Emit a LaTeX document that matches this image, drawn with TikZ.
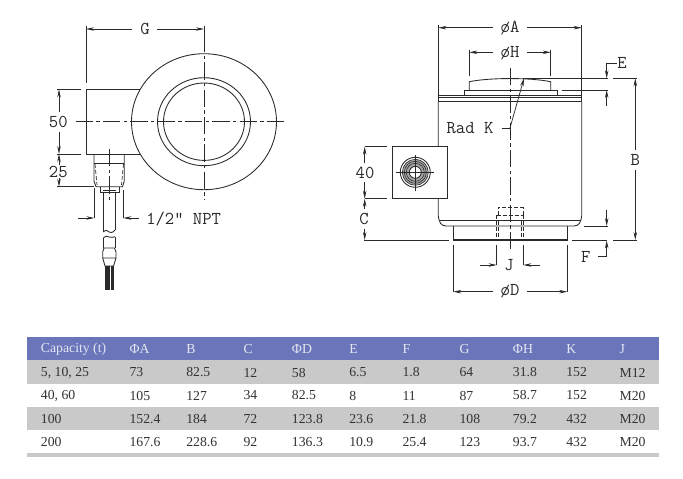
\documentclass[tikz,border=0pt]{standalone}
\usepackage{fontspec}
\setmainfont{Liberation Serif}
\usetikzlibrary{arrows.meta}
\definecolor{ink}{HTML}{2A2A2A}
\definecolor{headblue}{HTML}{6B75BA}
\definecolor{rowgray}{HTML}{C9C9C9}
\definecolor{headtext}{HTML}{E4E7F3}
\definecolor{celltext}{HTML}{333333}
\tikzset{
  part/.style={draw=ink,line width=0.65pt},
  thin part/.style={draw=ink,line width=0.45pt},
  dimline/.style={draw=ink,line width=0.55pt},
  dimarrow/.style={draw=ink,line width=0.55pt,-{Stealth[length=6pt,width=2.6pt]}},
  centerline/.style={draw=ink,line width=0.5pt,dash pattern=on 13pt off 2.5pt on 2.5pt off 2.5pt},
  hidden/.style={draw=ink,line width=0.5pt,dash pattern=on 3pt off 1.5pt},
  cad/.style={font=\ttfamily\fontsize{13.6}{14}\selectfont,text=ink,inner sep=0pt},
  headcell/.style={anchor=west,inner sep=0pt,text=headtext,font=\fontsize{10.3}{12}\selectfont},
  bodycell/.style={anchor=west,inner sep=0pt,text=celltext,font=\fontsize{10.3}{12}\selectfont}
}
\begin{document}
\begin{tikzpicture}[x=0.75pt,y=-0.75pt]
\useasboundingbox (0,0) rectangle (683,479);
\fill[white] (0,0) rectangle (683,479);

% ---------- left view ----------
\draw[part] (204,121.7) ellipse [x radius=72.5,y radius=68];
\draw[part] (204,121.7) ellipse [x radius=46.5,y radius=44];
\draw[part] (204,121.7) ellipse [x radius=40.5,y radius=38.7];
\draw[part] (140,89.3) -- (86,89.3) -- (86,154) -- (140,154);
\draw[centerline] (75.7,121.7) -- (287,121.7);
\draw[centerline] (204,35) -- (204,199.3);
% fitting
\draw[part] (94,154) -- (94,181) -- (96,186.7) -- (122.5,186.7) -- (124.3,181) -- (124.3,154);
\draw[thin part] (94,163.3) -- (124.3,163.3);
\draw[hidden] (95,164) -- (97,185);
\draw[hidden] (123.5,164) -- (121.5,185);
\draw[part] (100,186.7) -- (100,192.7) -- (119.3,192.7) -- (119.3,186.7);
\draw[thin part] (103,190) -- (116,190);
\draw[centerline] (109,149) -- (109,200);
% cable
\draw[part] (103.3,192.7) -- (103.3,232);
\draw[part] (115,192.7) -- (115,230);
\draw[part] (103.3,232) .. controls (106,229) and (108,231) .. (109,232) .. controls (110,233) and (113,233) .. (115,230);
\draw[part] (103.3,238) .. controls (105,235.5) and (107,236) .. (109,237) .. controls (111,238) and (113,237) .. (115,236.7);
\draw[part] (103.3,238) -- (103.3,248);
\draw[part] (115,236.7) -- (115,248);
\draw[part] (104,248) -- (102.7,252) -- (102.7,258) -- (116,258) -- (116,252) -- (114.5,248) -- cycle;
\draw[part] (102.7,258) -- (105,266) -- (113.5,266) -- (116,258);
\fill[ink] (105,266) rectangle (107.5,290);
\fill[ink] (108.2,266) rectangle (110.3,290);
\fill[ink] (111,266) rectangle (113.5,290);
% dimensions
\draw[dimline] (86,26) -- (86,83.3);
\draw[dimline] (204,26) -- (204,35);
\node[cad] (g) at (145,29) {G};
\draw[dimarrow] (132,29) -- (86,29);
\draw[dimarrow] (157,29) -- (204,29);
\draw[dimline] (57.3,89.3) -- (80.7,89.3);
\draw[dimline] (57.3,154) -- (81,154);
\draw[dimline] (57.3,186.7) -- (94,186.7);
\node[cad] (d50) at (58.3,121.7) {50};
\node[cad] (d25) at (58.3,171.7) {25};
\draw[dimarrow] (59,112) -- (59,89.3);
\draw[dimarrow] (59,132) -- (59,154);
\draw[dimarrow] (59,165) -- (59,154);
\draw[dimarrow] (59,178) -- (59,186.7);
\draw[dimline] (94.3,188) -- (94.3,218);
\draw[dimline] (123.3,190) -- (123.3,218);
\draw[dimarrow] (78.3,218) -- (94.3,218);
\draw[dimarrow] (139.3,218) -- (123.3,218);
\node[cad,anchor=west] (npt) at (146,218.5) {1/2" NPT};

% ---------- right view ----------
\draw[part] (438.3,101.7) -- (438.3,216) .. controls (439,222) and (441,226) .. (446,226) -- (574,226) .. controls (579,226) and (581,222) .. (581.7,216) -- (581.7,101.7);
\draw[part] (438.3,95) rectangle (581.7,97);
\draw[part] (438.3,101.7) -- (581.7,101.7);
\draw[part] (438.3,97) -- (438.3,101.7);
\draw[part] (581.7,97) -- (581.7,101.7);
\draw[part] (439.5,220.7) -- (580.5,220.7);
\draw[part] (464,95) -- (464,90) -- (557.3,90) -- (557.3,95);
\draw[part] (469.3,90) -- (469.3,81.7) .. controls (490,77.5) and (530,77.5) .. (550.7,81.7) -- (550.7,90);
\draw[part] (453.3,226) -- (453.3,240) -- (567.3,240) -- (567.3,226);
\draw[line width=1.1pt,draw=ink] (453.3,240) -- (567.3,240);
% thread
\draw[hidden] (498,215) -- (498,207.3) -- (523,207.3) -- (523,215);
\draw[hidden] (496.7,215) -- (523.3,215);
\draw[hidden] (496.7,215) -- (496.7,239.5);
\draw[hidden] (523.3,215) -- (523.3,239.5);
\draw[hidden] (498.5,221) -- (498.5,239.5);
\draw[hidden] (521.5,221) -- (521.5,239.5);
\draw[centerline] (510,68) -- (510,252);
% connector
\draw[part,fill=white] (392.3,146.7) rectangle (447,198.7);
\draw[part] (415.3,172.3) circle [radius=15];
\fill[gray!70] (415.3,172.3) circle [radius=13];
\draw[thin part] (415.3,172.3) circle [radius=13];
\draw[thin part] (415.3,172.3) circle [radius=11];
\draw[thin part] (415.3,172.3) circle [radius=9];
\draw[part,fill=white] (415.3,172.3) circle [radius=6];
\draw[thin part] (395.7,172.3) -- (434.3,172.3);
\draw[thin part] (415.3,155) -- (415.3,190.7);
% dimensions right
\draw[dimline] (438.3,25) -- (438.3,95);
\draw[dimline] (581.7,25) -- (581.7,95);
\node[cad] (da) at (510,28.5) {øA};
\draw[dimarrow] (493,27.7) -- (438.3,27.7);
\draw[dimarrow] (527,27.7) -- (581.7,27.7);
\draw[dimline] (469.3,50) -- (469.3,76);
\draw[dimline] (550.7,50) -- (550.7,76);
\node[cad] (dh) at (510,53) {øH};
\draw[dimarrow] (493,52.3) -- (469.3,52.3);
\draw[dimarrow] (527,52.3) -- (550.7,52.3);
\draw[dimline] (523,78.3) -- (608,78.3);
\draw[dimline] (613,78.3) -- (637,78.3);
\draw[dimline] (561.7,90) -- (608,90);
\node[cad] (e) at (622,63) {E};
\coordinate (eelbow) at (606.7,63.3);
\draw[dimline] (617,63.3) -- (eelbow);
\draw[dimarrow] (eelbow) -- (606.7,78.3);
\draw[dimarrow] (606.7,106) -- (606.7,90);
\node[cad] (b) at (635.3,160) {B};
\draw[dimarrow] (635.3,150) -- (635.3,78.3);
\draw[dimarrow] (635.3,170) -- (635.3,240);
\draw[dimline] (364,240) -- (449.3,240);
\draw[dimline] (571.7,240) -- (607,240);
\draw[dimline] (613,240) -- (637,240);
\draw[dimline] (584,226) -- (608,226);
\draw[dimarrow] (606.7,210) -- (606.7,226);
\node[cad] (f) at (585.7,256.7) {F};
\coordinate (felbow) at (606.7,256);
\draw[dimline] (598,256) -- (felbow);
\draw[dimarrow] (felbow) -- (606.7,240.5);
\draw[dimline] (365,146.7) -- (387,146.7);
\draw[dimline] (365,198.7) -- (387,198.7);
\node[cad] (d40) at (365,172.7) {40};
\draw[dimarrow] (364.7,163) -- (364.7,146.7);
\draw[dimarrow] (364.7,182) -- (364.7,198.7);
\node[cad] (c) at (364,219) {C};
\draw[dimarrow] (364.7,209) -- (364.7,198.7);
\draw[dimarrow] (364.7,229) -- (364.7,240);
\draw[dimline] (496.7,245) -- (496.7,265);
\draw[dimline] (523.3,245) -- (523.3,265);
\draw[dimarrow] (480,265) -- (496.7,265);
\draw[dimarrow] (540,265) -- (523.3,265);
\node[cad] (j) at (509,265) {J};
\draw[dimline] (453.3,245) -- (453.3,291.7);
\draw[dimline] (567.3,245) -- (567.3,291.7);
\node[cad] (dd) at (510,291.7) {øD};
\draw[dimarrow] (493,291.7) -- (453.3,291.7);
\draw[dimarrow] (527,291.7) -- (567.3,291.7);
\node[cad] (radk) at (470,128.5) {Rad K};
\coordinate (radelbow) at (510,128);
\draw[dimline] (501.7,128) -- (radelbow);
\draw[dimarrow] (radelbow) -- (524,78.3);

% ---------- table ----------
\fill[headblue] (27,336.7) rectangle (659,360);
\fill[rowgray] (27,360) rectangle (659,383.7);
\fill[rowgray] (27,406.7) rectangle (659,430);
\fill[rowgray] (27,453.3) rectangle (659,456.7);
\foreach \name/\xx [count=\i] in {Capacity (t)/40.7,ΦA/129.3,B/186,C/243.3,ΦD/291.7,E/349,F/402.3,G/459.3,ΦH/512.7,K/566,J/619.3}
  \node[headcell] (h\i) at (\xx,349) {\name};
\foreach \rowy/\rr/\vals in {
  372.5/a/{5{,} 10{,} 25,73,82.5,12,58,6.5,1.8,64,31.8,152,M12},
  395.5/b/{40{,} 60,105,127,34,82.5,8,11,87,58.7,152,M20},
  419/c/{100,152.4,184,72,123.8,23.6,21.8,108,79.2,432,M20},
  442/d/{200,167.6,228.6,92,136.3,10.9,25.4,123,93.7,432,M20}}{
  \foreach \val [count=\k] in \vals {
    \ifcase\k\or\def\xx{40.7}\or\def\xx{129.3}\or\def\xx{186}\or\def\xx{243.3}\or\def\xx{291.7}\or\def\xx{349}\or\def\xx{402.3}\or\def\xx{459.3}\or\def\xx{512.7}\or\def\xx{566}\or\def\xx{619.3}\fi
    \node[bodycell] (\rr\k) at (\xx,\rowy) {\val};
  }
}
\end{tikzpicture}
\end{document}
